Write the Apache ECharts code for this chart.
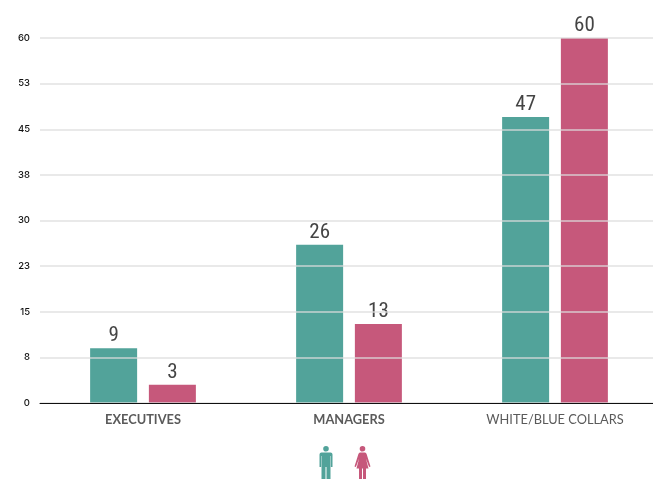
<!DOCTYPE html>
<html><head><meta charset="utf-8">
<style>html,body{margin:0;padding:0;background:#fff;overflow:hidden;width:653px;height:479px}#c{width:658px;height:479px}</style>
<script src="https://cdn.jsdelivr.net/npm/echarts@6/dist/echarts.min.js"></script>
</head><body><div id="c"></div>
<script>
var categories = ['EXECUTIVES', 'MANAGERS', 'WHITE/BLUE COLLARS'];
var men = [9, 26, 47];
var women = [3, 13, 60];
var manIcon = 'path://M6.5 0a2.8 2.8 0 1 1-.01 0ZM2 6.5H11Q13 6.5 13 8.5V21H11.4V10H11V33H7V21H6V33H2V10H1.6V21H0V8.5Q0 6.5 2 6.5Z';
var womanIcon = 'path://M8 0a2.8 2.8 0 1 1-.01 0ZM5.5 6.5H10.5Q11.6 6.5 12.1 8L16 20.5 14.6 21 11.4 12.5 14 22.5H11.5V33H8.5V22.5H7.5V33H4.5V22.5H2L4.6 12.5 1.4 21 0 20.5 3.9 8Q4.4 6.5 5.5 6.5Z';
var chart = echarts.init(document.getElementById('c'), null, {renderer: 'canvas'});
var catFont = 'Lato, "Open Sans", sans-serif';
var valFont = '"Liberation Sans Narrow", "Roboto Condensed", Roboto, sans-serif';
chart.setOption({
  animation: false,
  backgroundColor: '#fff',
  grid: {left: 40, right: 0, top: 38, bottom: 76, containLabel: false},
  legend: {
    show: true, bottom: 0, left: 318, itemGap: 22, itemWidth: 16, itemHeight: 33, padding: 0,
    formatter: function () { return ''; },
    textStyle: {fontSize: 1, padding: 0},
    selectedMode: false,
    data: [
      {name: 'Men', icon: manIcon, itemStyle: {color: '#52a39a'}},
      {name: 'Women', icon: womanIcon, itemStyle: {color: '#c6587b'}}
    ]
  },
  xAxis: {
    type: 'category', z: 4,
    data: categories.map(function (c, i) {
      return i === 2 ? {value: c, textStyle: {fontWeight: 'normal'}} : c;
    }),
    axisTick: {show: false},
    axisLine: {lineStyle: {color: '#111', width: 1}},
    axisLabel: {color: '#5a5a5a', fontFamily: catFont, fontSize: 12.8, fontWeight: 'bold', margin: 10}
  },
  yAxis: {
    type: 'value', min: 0, max: 60, interval: 7.5, z: 3,
    axisLine: {show: false}, axisTick: {show: false},
    axisLabel: {
      color: '#111', fontFamily: 'Inter, "Open Sans", sans-serif', fontWeight: 500, fontSize: 9.5, margin: 10,
      formatter: function (v) { return String(Math.round(v)); }
    },
    splitLine: {lineStyle: {color: 'rgba(220,220,220,0.85)', width: 1.5}}
  },
  series: [
    {name: 'Men', type: 'bar', data: men, barWidth: 47, barGap: '25%',
     itemStyle: {color: '#52a39a'},
     label: {show: true, position: 'top', distance: 2, color: '#444', fontFamily: valFont, fontSize: 21}},
    {name: 'Women', type: 'bar', data: women, barWidth: 47,
     itemStyle: {color: '#c6587b'},
     label: {show: true, position: 'top', distance: 2, color: '#444', fontFamily: valFont, fontSize: 21}}
  ]
});
</script></body></html>
